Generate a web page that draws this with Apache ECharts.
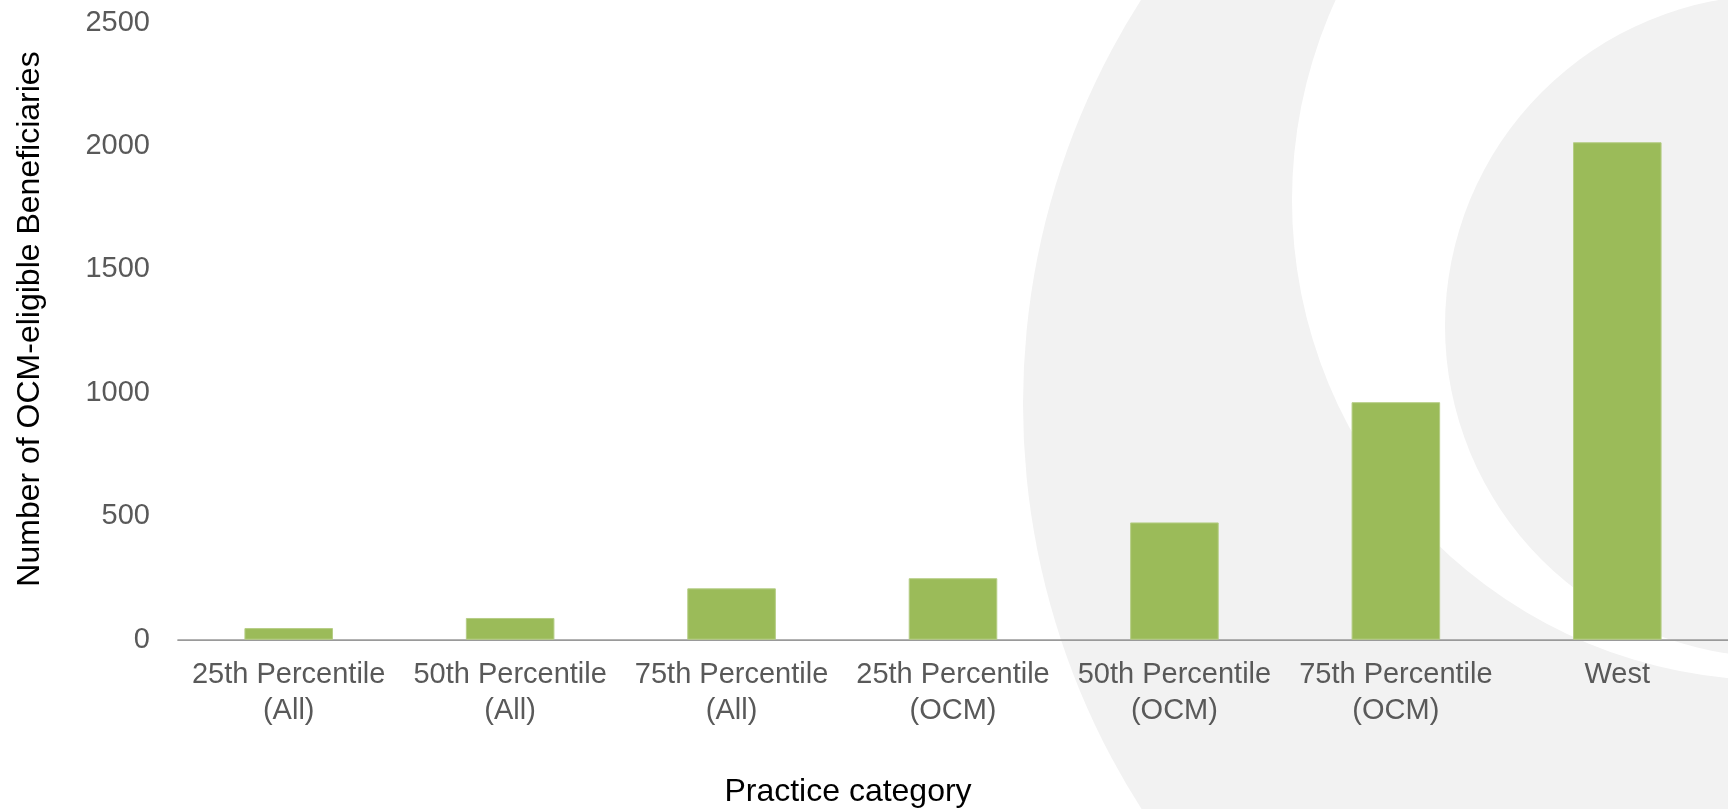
<!DOCTYPE html>
<html>
<head>
<meta charset="utf-8">
<script src="https://cdn.jsdelivr.net/npm/echarts@6/dist/echarts.min.js"></script>
<style>
html,body{margin:0;padding:0;background:#fff;}
#chart{width:1728px;height:809px;}
</style>
</head>
<body>
<div id="chart"></div>
<script>
const categories = [
  "25th Percentile\n(All)",
  "50th Percentile\n(All)",
  "75th Percentile\n(All)",
  "25th Percentile\n(OCM)",
  "50th Percentile\n(OCM)",
  "75th Percentile\n(OCM)",
  "West"
];
const beneficiaries = [47, 88, 208, 249, 475, 962, 2015];
const yTicks = [0, 500, 1000, 1500, 2000, 2500];
const yTitle = "Number of OCM-eligible Beneficiaries";
const xTitle = "Practice category";

const chart = echarts.init(document.getElementById('chart'), null, {renderer: 'canvas'});
const FONT = "'Liberation Sans', Arial, sans-serif";
chart.setOption({
  backgroundColor: '#ffffff',
  animation: false,
  graphic: [
    {type: 'circle', z: -10, silent: true, shape: {cx: 1774, cy: 404, r: 751}, style: {fill: '#f2f2f2'}},
    {type: 'circle', z: -9, silent: true, shape: {cx: 1772, cy: 200, r: 480}, style: {fill: '#ffffff'}},
    {type: 'circle', z: -8, silent: true, shape: {cx: 1776, cy: 326, r: 331}, style: {fill: '#f2f2f2'}},
    {type: 'text', z: 10, x: 30, y: 319, rotation: Math.PI / 2,
      style: {text: yTitle, font: '32px ' + FONT, fill: '#000000', textAlign: 'center', textVerticalAlign: 'middle'}},
    {type: 'text', z: 10,
      style: {text: xTitle, font: '32px ' + FONT, fill: '#000000', x: 848, y: 792, textAlign: 'center', textVerticalAlign: 'middle'}}
  ],
  grid: {left: 178, right: 0, top: 22.5, bottom: 169.3, containLabel: false},
  xAxis: {
    type: 'category',
    data: categories,
    axisLine: {show: true, lineStyle: {color: '#9a9a9a', width: 1.75}},
    axisTick: {show: false},
    axisLabel: {color: '#595959', fontSize: 29, fontFamily: FONT, lineHeight: 36, margin: 17, interval: 0}
  },
  yAxis: {
    type: 'value',
    min: 0, max: 2500, interval: 500,
    axisLine: {show: false},
    axisTick: {show: false},
    splitLine: {show: false},
    axisLabel: {color: '#595959', fontSize: 29, fontFamily: FONT, margin: 28, padding: [8, 0, 0, 0],
      formatter: function (v) { return yTicks.indexOf(v) >= 0 ? String(v) : ''; }}
  },
  series: [{
    type: 'bar',
    data: beneficiaries,
    barWidth: '40%',
    itemStyle: {color: '#9bbb59', borderColor: '#b5cd85', borderWidth: 1}
  }]
});
</script>
</body>
</html>
